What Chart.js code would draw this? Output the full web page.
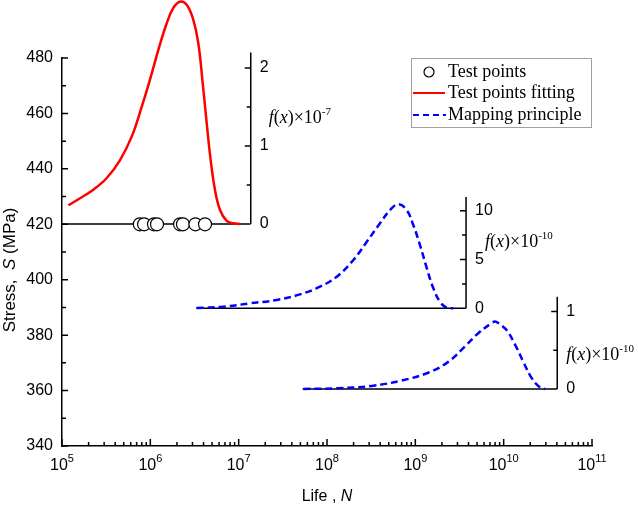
<!DOCTYPE html>
<html><head><meta charset="utf-8">
<script src="https://cdn.jsdelivr.net/npm/chart.js@4.4.1/dist/chart.umd.min.js"></script>
<style>html,body{margin:0;padding:0;background:#fff;}</style>
</head><body>
<canvas id="c" width="638" height="506"></canvas>
<script>
// ---------- data ----------
const stressTicks = [340, 360, 380, 400, 420, 440, 460, 480];
const stressMinor = [350, 370, 390, 410, 430, 450, 470];
const lifeDecades = [1e5, 1e6, 1e7, 1e8, 1e9, 1e10, 1e11];
const lifeDecadeExp = ['5', '6', '7', '8', '9', '10', '11'];
const lifeMinorMult = [2, 3, 4, 5, 6, 7, 8, 9];

const testLife = [7.6e5, 8.5e5, 1.10e6, 1.19e6, 2.17e6, 2.34e6, 3.24e6, 4.16e6];
const testStress = [420, 420, 420, 420, 420, 420, 420, 420];

const fitLife = [1.18e5, 1.60e5, 2.26e5, 3.21e5, 4.54e5, 6.15e5, 7.98e5, 9.91e5, 1.23e6, 1.53e6, 1.82e6, 2.17e6,
  2.58e6, 3.06e6, 3.49e6, 3.92e6, 4.35e6, 4.82e6, 5.39e6, 6.15e6, 7.33e6, 8.69e6, 1.04e7];
const fitDensity = [0.24, 0.33, 0.44, 0.59, 0.82, 1.12, 1.50, 1.85, 2.23, 2.57, 2.77, 2.85,
  2.81, 2.62, 2.32, 1.80, 1.29, 0.82, 0.44, 0.18, 0.04, 0.01, 0];

const map1Life = [3.35e6, 6.70e6, 1.34e7, 2.70e7, 4.95e7, 8.33e7, 1.29e8, 1.99e8, 2.82e8, 3.98e8, 5.17e8, 6.41e8,
  7.98e8, 9.48e8, 1.13e9, 1.35e9, 1.60e9, 1.90e9, 2.26e9, 2.69e9];
const map1Density = [0.03, 0.16, 0.51, 0.85, 1.43, 2.21, 3.24, 4.95, 6.82, 8.71, 10.07, 10.66,
  10.07, 8.53, 6.48, 4.09, 2.05, 0.68, 0.06, 0];

const map2Life = [5.40e7, 1.34e8, 3.21e8, 7.01e8, 1.40e9, 2.36e9, 3.65e9, 5.16e9, 7.31e9, 7.98e9, 8.71e9,
  1.08e10, 1.35e10, 1.67e10, 2.08e10, 2.58e10, 2.94e10];
const map2Density = [0, 0.01, 0.04, 0.11, 0.21, 0.35, 0.55, 0.72, 0.85, 0.87, 0.85,
  0.76, 0.57, 0.35, 0.14, 0.02, 0];

const inset1Ticks = [0, 1, 2];   const inset1Minor = [0.5, 1.5];
const inset2Ticks = [0, 5, 10];  const inset2Minor = [2.5, 7.5];
const inset3Ticks = [0, 1];      const inset3Minor = [0.5];
const insetExp = ['-7', '-10', '-10'];

// ---------- styling / layout ----------
const SANS = '"Liberation Sans", Arial, sans-serif';
const SERIF = '"Liberation Serif", "Times New Roman", serif';

const insets = [
  { scale: 'y1', from: 1e5,  axisAt: 1.37e7, top: 2.2,  ticks: inset1Ticks, minor: inset1Minor, exp: insetExp[0], lblDx: 18, lblDy: -101 },
  { scale: 'y2', from: 3.3e6, axisAt: 3.75e9, top: 11.4, ticks: inset2Ticks, minor: inset2Minor, exp: insetExp[1], lblDx: 19, lblDy: -61 },
  { scale: 'y3', from: 5.3e7, axisAt: 4.04e10, top: 1.19, ticks: inset3Ticks, minor: inset3Minor, exp: insetExp[2], lblDx: 9, lblDy: -29 }
];

function pts(xs, ys) { return xs.map((v, i) => ({ x: v, y: ys[i] })); }

function drawRuns(ctx, x, y, runs, align) {
  let total = 0;
  runs.forEach(r => { ctx.font = r.font; r.w = ctx.measureText(r.t).width; total += r.w; });
  let cx = align === 'center' ? x - total / 2 : x;
  ctx.textAlign = 'left';
  runs.forEach(r => { ctx.font = r.font; ctx.fillText(r.t, cx, y + (r.dy || 0)); cx += r.w; });
}

const decor = {
  id: 'decor',
  beforeDatasetsDraw(chart) {
    const { ctx, scales } = chart;
    const xs = scales.x, ys = scales.y;
    const x0 = xs.left, y0 = ys.bottom;
    ctx.save();
    ctx.strokeStyle = '#000'; ctx.fillStyle = '#000'; ctx.lineWidth = 1.5;
    ctx.beginPath();
    stressTicks.forEach(v => { const p = ys.getPixelForValue(v); ctx.moveTo(x0, p); ctx.lineTo(x0 + 6, p); });
    stressMinor.forEach(v => { const p = ys.getPixelForValue(v); ctx.moveTo(x0, p); ctx.lineTo(x0 + 4, p); });
    lifeDecades.forEach((d, i) => {
      const p = xs.getPixelForValue(d); ctx.moveTo(p, y0); ctx.lineTo(p, y0 - 7);
      if (i < lifeDecades.length - 1) lifeMinorMult.forEach(m => {
        const q = xs.getPixelForValue(m * d); ctx.moveTo(q, y0); ctx.lineTo(q, y0 - 4);
      });
    });
    ctx.stroke();
    ctx.textBaseline = 'alphabetic';
    lifeDecades.forEach((d, i) => {
      const p = xs.getPixelForValue(d);
      drawRuns(ctx, p, 470, [
        { t: '10', font: '16px ' + SANS },
        { t: lifeDecadeExp[i], font: '11px ' + SANS, dy: -8 }
      ], 'center');
    });
    drawRuns(ctx, (xs.left + xs.right) / 2, 501, [
      { t: 'Life , ', font: '16px ' + SANS },
      { t: 'N', font: 'italic 16px ' + SANS }
    ], 'center');
    ctx.save();
    ctx.translate(10, 270);
    ctx.rotate(-Math.PI / 2);
    ctx.textBaseline = 'middle';
    drawRuns(ctx, 0, 0, [
      { t: 'Stress,  ', font: '17px ' + SANS },
      { t: 'S', font: 'italic 17px ' + SANS },
      { t: ' (MPa)', font: '17px ' + SANS }
    ], 'center');
    ctx.restore();

    insets.forEach(ins => {
      const s = scales[ins.scale];
      const ax = xs.getPixelForValue(ins.axisAt);
      const bx = xs.getPixelForValue(ins.from);
      const zy = s.getPixelForValue(0);
      ctx.beginPath();
      ctx.moveTo(bx, zy); ctx.lineTo(ax, zy);
      ctx.moveTo(ax, zy); ctx.lineTo(ax, s.getPixelForValue(ins.top));
      ins.ticks.forEach(v => { const p = s.getPixelForValue(v); ctx.moveTo(ax, p); ctx.lineTo(ax - 6, p); });
      ins.minor.forEach(v => { const p = s.getPixelForValue(v); ctx.moveTo(ax, p); ctx.lineTo(ax - 4, p); });
      ctx.stroke();
      ctx.font = '16px ' + SANS; ctx.textAlign = 'left'; ctx.textBaseline = 'middle';
      ins.ticks.forEach(v => ctx.fillText(String(v), ax + 9, s.getPixelForValue(v)));
      ctx.textBaseline = 'alphabetic';
      drawRuns(ctx, ax + ins.lblDx, zy + ins.lblDy, [
        { t: 'f', font: 'italic 18px ' + SERIF },
        { t: '(', font: '18px ' + SERIF },
        { t: 'x', font: 'italic 18px ' + SERIF },
        { t: ')', font: '18px ' + SERIF },
        { t: '×10', font: '18px ' + SERIF },
        { t: ins.exp, font: '11px ' + SERIF, dy: -8 }
      ], 'left');
    });
    ctx.restore();
  },
  afterDatasetsDraw(chart) {
    const { ctx } = chart;
    const ds = chart.data.datasets;
    ctx.save();
    ctx.fillStyle = '#fff'; ctx.strokeStyle = '#a0a0a0'; ctx.lineWidth = 1;
    ctx.fillRect(411, 58, 180, 69);
    ctx.strokeRect(411.5, 58.5, 180, 69);
    const rows = [72, 93, 115];
    ctx.beginPath(); ctx.arc(429, rows[0], 5, 0, Math.PI * 2);
    ctx.fillStyle = '#fff'; ctx.fill(); ctx.strokeStyle = '#000'; ctx.lineWidth = 1.2; ctx.stroke();
    ctx.beginPath(); ctx.strokeStyle = ds[1].borderColor; ctx.lineWidth = 2;
    ctx.moveTo(413, rows[1]); ctx.lineTo(445, rows[1]); ctx.stroke();
    ctx.beginPath(); ctx.strokeStyle = ds[2].borderColor; ctx.setLineDash([6, 4]);
    ctx.moveTo(413, rows[2]); ctx.lineTo(446, rows[2]); ctx.stroke();
    ctx.setLineDash([]);
    ctx.fillStyle = '#000'; ctx.font = '18px ' + SERIF; ctx.textAlign = 'left'; ctx.textBaseline = 'middle';
    [ds[0].label, ds[1].label, ds[2].label].forEach((t, i) => ctx.fillText(t, 448, rows[i]));
    ctx.restore();
  }
};

new Chart(document.getElementById('c'), {
  type: 'line',
  data: {
    datasets: [
      { type: 'scatter', label: 'Test points', data: pts(testLife, testStress), yAxisID: 'y',
        pointStyle: 'circle', pointRadius: 6.5, pointBackgroundColor: '#fff', pointBorderColor: '#000',
        pointBorderWidth: 1.2, showLine: false, order: 0, clip: false },
      { label: 'Test points fitting', data: pts(fitLife, fitDensity), yAxisID: 'y1',
        borderColor: '#ff0000', borderWidth: 2.5, pointRadius: 0, tension: 0.4,
        fill: false, order: 1, clip: false },
      { label: 'Mapping principle', data: pts(map1Life, map1Density), yAxisID: 'y2',
        borderColor: '#0000ff', borderWidth: 2.5, borderDash: [7, 4], pointRadius: 0,
        tension: 0.4, fill: false, order: 1, clip: false },
      { label: 'Mapping principle', data: pts(map2Life, map2Density), yAxisID: 'y3',
        borderColor: '#0000ff', borderWidth: 2.5, borderDash: [7, 4], pointRadius: 0,
        tension: 0.4, fill: false, order: 1, clip: false }
    ]
  },
  options: {
    responsive: false,
    animation: false,
    layout: { padding: { top: 58, right: 46, left: 0, bottom: 0 } },
    plugins: { legend: { display: false }, tooltip: { enabled: false } },
    scales: {
      x: { type: 'logarithmic', min: 1e5, max: 1e11, position: 'bottom',
        grid: { display: false, drawTicks: false }, border: { display: true, color: '#000', width: 1.5 },
        ticks: { display: false }, afterFit: s => { s.height = 60; } },
      y: { type: 'linear', min: 340, max: 480, position: 'left',
        grid: { display: false, drawTicks: false }, border: { display: true, color: '#000', width: 1.5 },
        afterBuildTicks: s => { s.ticks = stressTicks.map(v => ({ value: v })); },
        ticks: { padding: 9, color: '#000', font: { family: SANS, size: 16 } },
        afterFit: s => { s.width = 62; } },
      y1: { type: 'linear', display: false, position: 'right', min: -2.846, max: 2.128 },
      y2: { type: 'linear', display: false, position: 'right', min: -14.109, max: 25.646 },
      y3: { type: 'linear', display: false, position: 'right', min: -0.7355, max: 4.271 }
    }
  },
  plugins: [decor]
});
</script>
</body></html>
